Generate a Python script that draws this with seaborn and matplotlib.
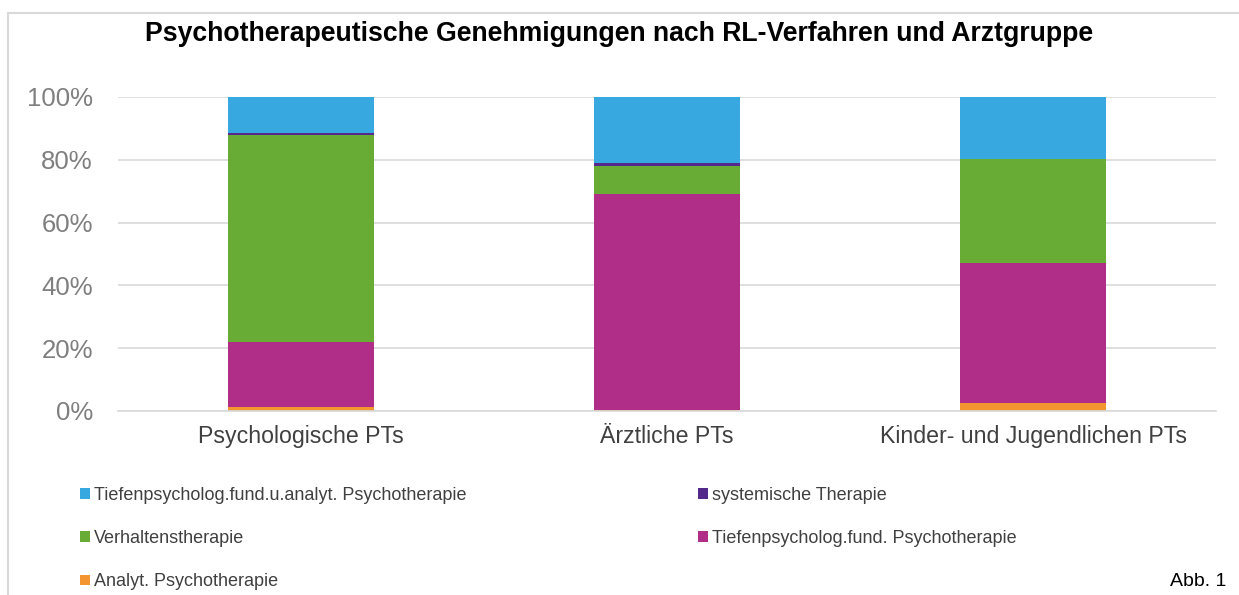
import matplotlib
matplotlib.use("Agg")
import matplotlib.pyplot as plt
from matplotlib.patches import Rectangle
from matplotlib.ticker import PercentFormatter
import numpy as np
import pandas as pd
import seaborn as sns

categories = ["Psychologische PTs", "Ärztliche PTs", "Kinder- und Jugendlichen PTs"]
series_names = [
    "Analyt. Psychotherapie",
    "Tiefenpsycholog.fund. Psychotherapie",
    "Verhaltenstherapie",
    "systemische Therapie",
    "Tiefenpsycholog.fund.u.analyt. Psychotherapie",
]
analyt = [1.2, 0.3, 2.5]
tiefen = [20.7, 68.9, 44.7]
verhalten = [66.0, 8.8, 33.2]
systemisch = [0.7, 1.05, 0.0]
tiefen_analyt = [11.4, 20.95, 19.6]
colors = ["#F39530", "#B02E87", "#69AC35", "#55288C", "#38A8E0"]
yticks = [0, 20, 40, 60, 80, 100]
title = "Psychotherapeutische Genehmigungen nach RL-Verfahren und Arztgruppe"

sns.set_theme(style="white")
plt.rcParams["font.family"] = ["Liberation Sans", "DejaVu Sans"]

fig = plt.figure(figsize=(12.39, 5.95), dpi=100)
ax = fig.add_axes([118 / 1239, 1 - 411 / 595, (1216 - 118) / 1239, (411 - 97) / 595])

values = np.array([analyt, tiefen, verhalten, systemisch, tiefen_analyt])
cum = np.cumsum(values, axis=0)
# draw cumulative totals from top series down so lower segments overlay
for i in range(len(series_names) - 1, -1, -1):
    df = pd.DataFrame({"cat": categories, "val": cum[i]})
    sns.barplot(data=df, x="cat", y="val", color=colors[i], width=0.4,
                saturation=1, linewidth=0, ax=ax, order=categories)

ax.set_xlim(-0.5, 2.5)
ax.set_ylim(0, 100)
ax.set_yticks(yticks)
ax.yaxis.set_major_formatter(PercentFormatter(decimals=0))
ax.yaxis.grid(True, color="#d9d9d9", linewidth=1.2)
ax.set_axisbelow(True)
for s in ax.spines.values():
    s.set_visible(False)
ax.spines["bottom"].set_visible(True)
ax.spines["bottom"].set_color("#d9d9d9")
ax.spines["bottom"].set_linewidth(1.2)
ax.set_xlabel("")
ax.set_ylabel("")
ax.tick_params(axis="y", labelsize=18.5, colors="#7f7f7f", length=0, pad=18)
ax.tick_params(axis="x", labelsize=16.7, colors="#404040", length=0, pad=10)

fig.text(0.5, 1 - 34 / 595, title, ha="center", va="center", fontsize=19.2,
         fontweight="bold", color="black")

# border frame
fig.patches.append(Rectangle((8 / 1239, -0.05), 1.2, 1 - 13 / 595 + 0.05,
                             transform=fig.transFigure, fill=False,
                             edgecolor="#d9d9d9", linewidth=1.5))

handles = [Rectangle((0, 0), 1, 1, facecolor=c, edgecolor="none") for c in colors]
left_idx = [4, 2, 0]
right_idx = [3, 1]
leg_kw = dict(frameon=False, fontsize=13, handlelength=0.55, handleheight=0.55,
              handletextpad=0.22, labelspacing=1.45, labelcolor="#404040",
              borderaxespad=0, borderpad=0, loc="upper left")
fig.legend([handles[i] for i in left_idx], [series_names[i] for i in left_idx],
           bbox_to_anchor=(80 / 1239, 1 - 487 / 595), **leg_kw)
fig.legend([handles[i] for i in right_idx], [series_names[i] for i in right_idx],
           bbox_to_anchor=(698 / 1239, 1 - 487 / 595), **leg_kw)

fig.text(1226 / 1239, 1 - 582 / 595, "Abb. 1", ha="right", va="center",
         fontsize=14, color="black")

fig.savefig("out.png", dpi=100)
